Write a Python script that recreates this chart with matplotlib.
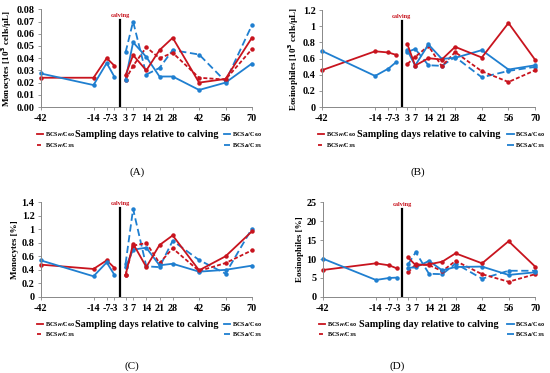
import numpy as np
import matplotlib
matplotlib.use('Agg')
import matplotlib.pyplot as plt
import matplotlib.transforms as mtransforms
from matplotlib.lines import Line2D

plt.rcParams['font.family'] = 'Liberation Serif'
plt.rcParams['font.weight'] = 'bold'

# sampling days
pre_days = [-42, -14, -7, -3]
post_days = [3, 7, 14, 21, 28, 42, 56, 70]
tick_days = pre_days + post_days

# (A) monocytes 10^3 cells/uL
monoA_pre_H = [0.024, 0.024, 0.040, 0.034]
monoA_pre_A = [0.0275, 0.018, 0.036, 0.025]
monoA_H60 = [0.026, 0.0425, 0.030, 0.0466, 0.0567, 0.020, 0.023, 0.0567]
monoA_H35 = [0.0225, 0.0337, 0.049, 0.040, 0.0444, 0.024, 0.0225, 0.0474]
monoA_A60 = [0.0225, 0.053, 0.041, 0.025, 0.025, 0.014, 0.020, 0.0356]
monoA_A35 = [0.0447, 0.070, 0.0266, 0.032, 0.0466, 0.043, 0.021, 0.067]

# (B) eosinophiles 10^3 cells/uL
eosA_pre_H = [0.455, 0.69, 0.675, 0.646]
eosA_pre_A = [0.695, 0.385, 0.476, 0.555]
eosA_H60 = [0.774, 0.513, 0.604, 0.588, 0.745, 0.613, 1.04, 0.584]
eosA_H35 = [0.534, 0.62, 0.757, 0.505, 0.68, 0.443, 0.31, 0.455]
eosA_A60 = [0.70, 0.513, 0.774, 0.596, 0.609, 0.704, 0.464, 0.517]
eosA_A35 = [0.68, 0.72, 0.517, 0.51, 0.62, 0.368, 0.447, 0.497]

# (C) monocytes %
monoP_pre_H = [0.477, 0.413, 0.54, 0.432]
monoP_pre_A = [0.54, 0.305, 0.51, 0.33]
monoP_H60 = [0.32, 0.786, 0.442, 0.766, 0.909, 0.393, 0.60, 0.968]
monoP_H35 = [0.32, 0.757, 0.796, 0.50, 0.717, 0.383, 0.50, 0.688]
monoP_A60 = [0.44, 0.698, 0.727, 0.467, 0.49, 0.373, 0.40, 0.462]
monoP_A35 = [0.49, 1.30, 0.452, 0.44, 0.83, 0.545, 0.344, 1.01]

# (D) eosinophiles %
eosP_pre_H = [7.1, 8.86, 8.33, 7.54]
eosP_pre_A = [10.1, 4.47, 5.0, 5.09]
eosP_H60 = [10.4, 8.33, 8.6, 9.3, 11.5, 8.86, 14.7, 8.0]
eosP_H35 = [6.5, 8.6, 8.4, 6.8, 9.5, 6.0, 4.0, 6.0]
eosP_A60 = [7.7, 7.8, 9.5, 7.0, 7.9, 8.0, 5.8, 6.5]
eosP_A35 = [8.6, 11.8, 6.1, 6.0, 8.8, 4.8, 6.9, 6.9]

red = '#C8141E'
blue = '#1F7FD0'
red_dash = (0, (2.2, 1.2))
blue_dash = (0, (4, 2))

labels = ['BCS$_H$/C$_{60}$', 'BCS$_H$/C$_{35}$', 'BCS$_A$/C$_{60}$', 'BCS$_A$/C$_{35}$']

fig = plt.figure(figsize=(5.5, 3.73), dpi=100)

panels = [
    ([0.074, 0.713, 0.384, 0.262], monoA_pre_H, monoA_pre_A, monoA_H60, monoA_H35, monoA_A60, monoA_A35,
     'Monocytes [10$^3$ cells/µL]', (0, 0.08), np.arange(0, 0.081, 0.01), '{:.2f}', 0.89,
     'Sampling days relative to calving', '(A)', (0.25, 0.539)),
    ([0.585, 0.713, 0.388, 0.26], eosA_pre_H, eosA_pre_A, eosA_H60, eosA_H35, eosA_A60, eosA_A35,
     'Eosinophiles [10$^3$ cells/µL]', (0, 1.2), np.arange(0, 1.21, 0.2), None, 0.885,
     'Sampling days relative to calving', '(B)', (0.76, 0.539)),
    ([0.074, 0.204, 0.384, 0.254], monoP_pre_H, monoP_pre_A, monoP_H60, monoP_H35, monoP_A60, monoP_A35,
     'Monocytes [%]', (0, 1.4), np.arange(0, 1.41, 0.2), None, 0.94,
     'Sampling days relative to calving', '(C)', (0.24, 0.019)),
    ([0.587, 0.204, 0.386, 0.254], eosP_pre_H, eosP_pre_A, eosP_H60, eosP_H35, eosP_A60, eosP_A35,
     'Eosinophiles [%]', (0, 25), np.arange(0, 26, 5), '{:.0f}', 0.93,
     'Sampling day relative to calving', '(D)', (0.722, 0.019)),
]

for (rect, preH, preA, h60, h35, a60, a35, ylab, ylim, yt, fmt, vtop, xlab, tag, tagpos) in panels:
    ax = fig.add_axes(rect)
    kw = dict(marker='o', markersize=2.2, lw=1.3, clip_on=False)
    ax.plot(pre_days, preH, color=red, **kw)
    ax.plot(pre_days, preA, color=blue, **kw)
    ax.plot(post_days, a35, color=blue, ls=blue_dash, **kw)
    ax.plot(post_days, h35, color=red, ls=red_dash, **kw)
    ax.plot(post_days, a60, color=blue, **kw)
    ax.plot(post_days, h60, color=red, **kw)

    ax.axvline(0, ymin=0, ymax=vtop, color='black', lw=1.6)
    ax.text(0, vtop + 0.05, 'calving', color=red, fontsize=4.5, ha='center', va='center',
            transform=mtransforms.blended_transform_factory(ax.transData, ax.transAxes))

    ax.set_xlim(-42, 70)
    ax.set_ylim(*ylim)
    ax.set_yticks(yt)
    if fmt is not None:
        ax.set_yticklabels([fmt.format(v) for v in yt])
    else:
        ax.set_yticklabels(['{:g}'.format(round(v, 1)) for v in yt])
    ax.set_xticks(tick_days)
    ax.set_xticklabels([str(d) for d in tick_days])
    # first label sits left of the axis in the original
    first = ax.get_xticklabels()[0]
    first.set_transform(first.get_transform() +
                        mtransforms.ScaledTranslation(-0.27, 0, fig.dpi_scale_trans))
    for t in ax.get_xticklabels() + ax.get_yticklabels():
        t.set_fontweight('bold')

    ax.tick_params(axis='both', labelsize=7.3, length=2.5, width=0.6, color='#888888', pad=2)
    ax.tick_params(axis='x', pad=2.5)
    for s in ['top', 'right']:
        ax.spines[s].set_visible(False)
    for s in ['left', 'bottom']:
        ax.spines[s].set_color('#888888')
        ax.spines[s].set_linewidth(0.7)

    ax.set_ylabel(ylab, fontsize=6.5, labelpad=1.5, fontweight='bold')
    ax.set_xlabel(xlab, fontsize=7.3, labelpad=5, fontweight='bold')

    hl = [Line2D([], [], color=red, lw=1.3), Line2D([], [], color=red, lw=1.3, ls=red_dash)]
    hr = [Line2D([], [], color=blue, lw=1.3), Line2D([], [], color=blue, lw=1.3, ls=blue_dash)]
    lkw = dict(fontsize=4.5, frameon=False, handlelength=1.0, handletextpad=0.3,
               labelspacing=0.3, borderaxespad=0)
    l1 = ax.legend(hl, labels[:2], loc='upper left', bbox_to_anchor=(-0.03, -0.215), **lkw)
    ax.add_artist(l1)
    ax.legend(hr, labels[2:], loc='upper right', bbox_to_anchor=(1.06, -0.215), **lkw)

    fig.text(tagpos[0], tagpos[1], tag, fontsize=8, ha='center', va='center', fontweight='normal')

fig.savefig('out.png', dpi=100)
